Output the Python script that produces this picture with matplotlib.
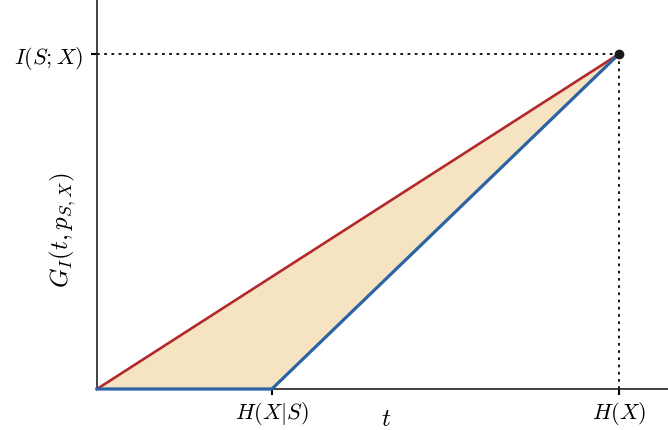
import numpy as np
import matplotlib
matplotlib.use("Agg")
import matplotlib.pyplot as plt

plt.rcParams['mathtext.fontset'] = 'cm'
plt.rcParams['font.family'] = ['DejaVu Serif']

# values (H(X) = 1)
h_x = 1.0
h_x_given_s = 0.335
i_sx = h_x - h_x_given_s

upper_x = [0.0, h_x]
upper_y = [0.0, i_sx]
lower_x = [0.0, h_x_given_s, h_x]
lower_y = [0.0, 0.0, i_sx]

x_ticks = [h_x_given_s, h_x]
x_tick_labels = [r'$H(X|S)$', r'$H(X)$']
y_ticks = [i_sx]
y_tick_labels = [r'$I(S;X)$']

red = '#b3292b'
blue = '#2b63a5'
fill = '#f5e3c1'

fig = plt.figure(figsize=(6.68, 4.31), dpi=100)
# axes runs past the right edge of the picture, like the cropped original
ax = fig.add_axes([97 / 668, 41 / 431, 1.0, 390 / 431])

ax.set_xlim(0, h_x * 668 / 522)
ax.set_ylim(0, i_sx * 390 / 335)

xs = np.array(lower_x)
ax.fill_between(xs, np.interp(xs, upper_x, upper_y), lower_y,
                color=fill, lw=0, zorder=1)
ax.plot(upper_x, upper_y, color=red, lw=1.9, zorder=3, clip_on=False)
ax.plot(lower_x, lower_y, color=blue, lw=2.3, zorder=4, clip_on=False)

ax.plot([0, h_x], [i_sx, i_sx], ls=(0, (1.5, 2.5)), color='black', lw=1.3, zorder=2)
ax.plot([h_x, h_x], [0, i_sx], ls=(0, (1.5, 2.5)), color='black', lw=1.3, zorder=2)
ax.plot([h_x], [i_sx], 'o', color='#1a1a1a', ms=6, zorder=5)

ax.set_xticks(x_ticks)
ax.set_xticklabels(x_tick_labels, fontsize=16)
ax.set_yticks(y_ticks)
ax.set_yticklabels(y_tick_labels, fontsize=16)
ax.tick_params(axis='x', length=4, width=1.5, pad=3)
ax.tick_params(axis='y', length=4, width=1.5, pad=6)

ax.set_xlabel(r'$t$', fontsize=18)
ax.xaxis.set_label_coords((386 - 97) / 668, -0.045)
ax.set_ylabel(r'$G_I(t,p_{S,X})$', fontsize=18)
ax.yaxis.set_label_coords((78 - 97) / 668, 0.41)

for side in ['left', 'bottom']:
    ax.spines[side].set_color('#222222')
    ax.spines[side].set_linewidth(1.2)
ax.spines['top'].set_color('#aaaaaa')
ax.spines['top'].set_linewidth(1.5)
ax.spines['right'].set_visible(False)

fig.savefig('out.png', dpi=100)
